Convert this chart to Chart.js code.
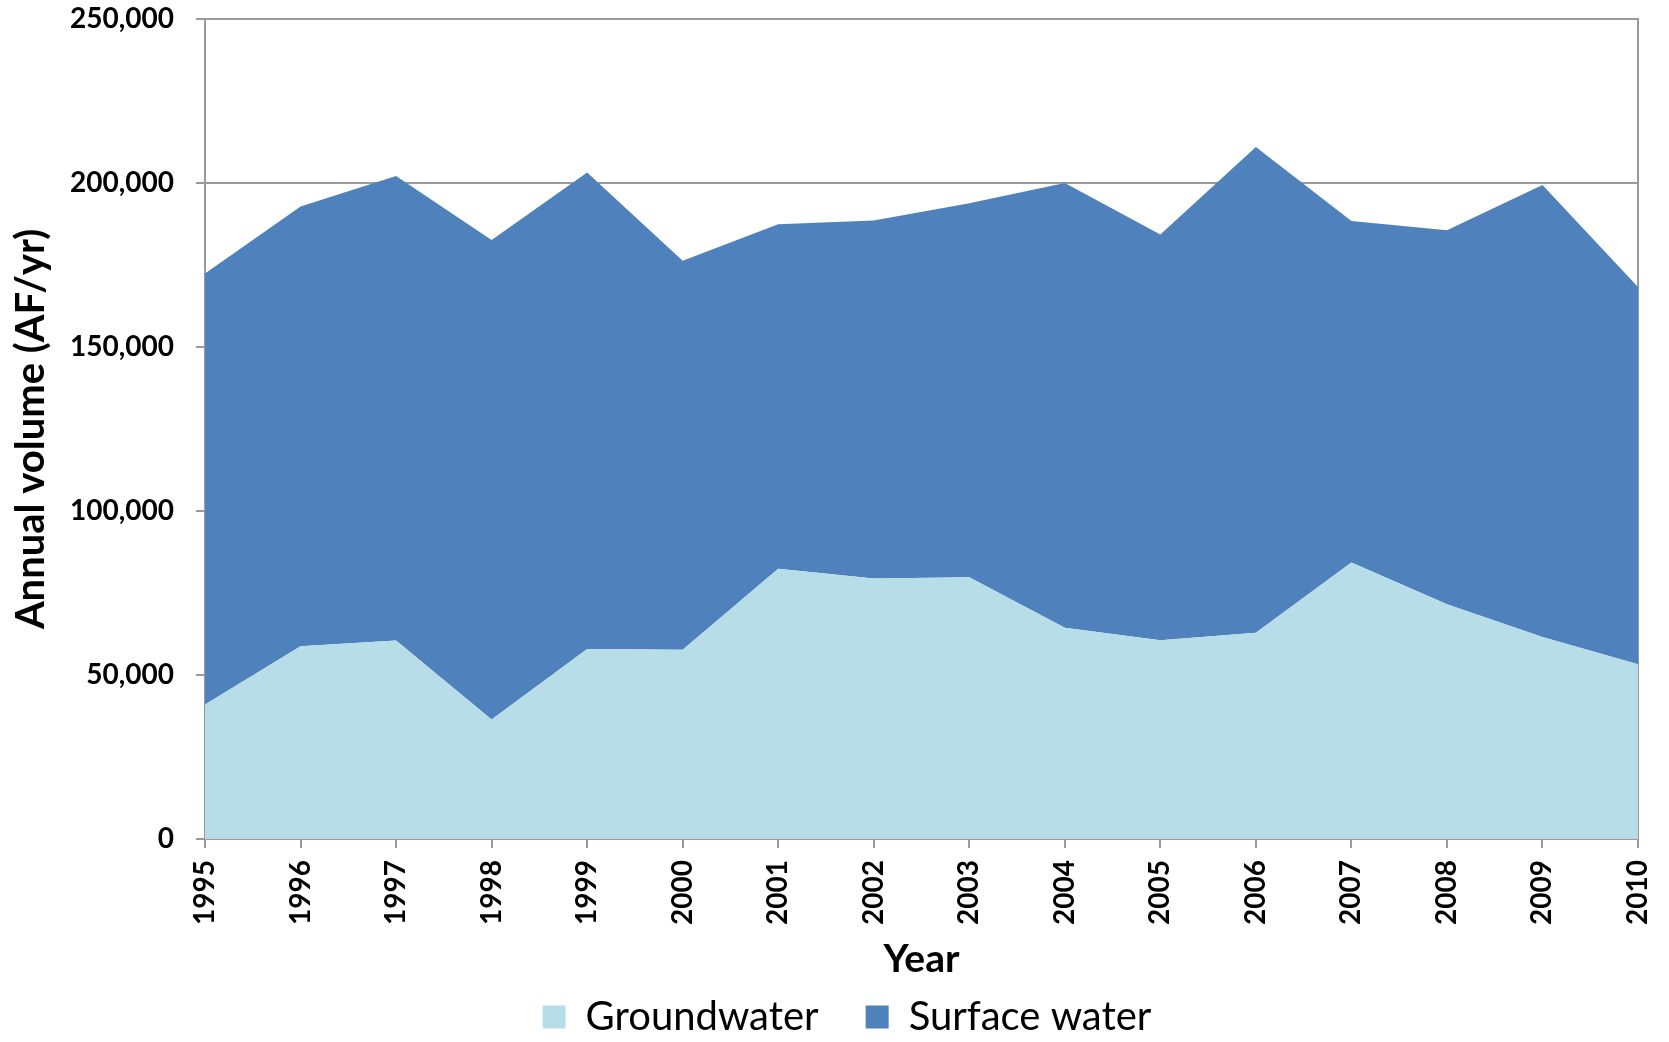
<!DOCTYPE html>
<html lang="en">
<head>
  <meta charset="UTF-8">
  <title>Annual volume</title>
  <script src="https://cdn.jsdelivr.net/npm/chart.js@4.4.1/dist/chart.umd.min.js"></script>
  <style>
    html, body { margin: 0; padding: 0; background: #fff; }
    #wrap { width: 1669px; height: 1042px; }
  </style>
</head>
<body>
  <div id="wrap"><canvas id="chart" width="1669" height="1042"></canvas></div>
  <script>
    // values (AF/yr)
    const years = ['1995','1996','1997','1998','1999','2000','2001','2002','2003','2004','2005','2006','2007','2008','2009','2010'];
    const groundwater = [41000, 58800, 60500, 36400, 57900, 57700, 82400, 79400, 79800, 64400, 60600, 62900, 84300, 71600, 61600, 53300];
    const surfaceWater = [131400, 134000, 141600, 146200, 145300, 118600, 105000, 109200, 114000, 135600, 123700, 148100, 104100, 114000, 137800, 115000];
    const yTicks = [0, 50000, 100000, 150000, 200000, 250000];

    const axisGray = '#9a9a9a';
    const fontFam = 'Lato, "Open Sans", sans-serif';

    // keep tick-label overflow from pushing the plot area around
    function noOverflow(s) {
      s.paddingTop = 0; s.paddingBottom = 0; s.paddingLeft = 0; s.paddingRight = 0;
    }

    new Chart(document.getElementById('chart'), {
      type: 'line',
      data: {
        labels: years,
        datasets: [
          { label: 'Groundwater', data: groundwater, backgroundColor: '#b7dde8', borderWidth: 0, pointRadius: 0, fill: 'origin', tension: 0 },
          { label: 'Surface water', data: surfaceWater, backgroundColor: '#4f81bd', borderWidth: 0, pointRadius: 0, fill: '-1', tension: 0 }
        ]
      },
      options: {
        responsive: false,
        animation: false,
        layout: { padding: { top: 19, right: 31, bottom: -5, left: 56 } },
        plugins: {
          tooltip: { enabled: false },
          legend: {
            position: 'bottom',
            labels: {
              color: '#000',
              font: { family: fontFam, size: 40 },
              boxWidth: 23,
              boxHeight: 23,
              padding: 47
            }
          }
        },
        scales: {
          x: {
            offset: false,
            grid: { drawOnChartArea: false, color: axisGray, tickLength: 9, lineWidth: 2 },
            border: { color: axisGray, width: 2 },
            ticks: { color: '#000', font: { family: fontFam, size: 28, weight: 'bold' }, minRotation: 90, maxRotation: 90, padding: 12 },
            title: { display: true, text: 'Year', color: '#000', font: { family: fontFam, size: 39, weight: 'bold' }, padding: { top: 0, bottom: -33 } },
            afterFit: s => { s.height = 111; noOverflow(s); }
          },
          y: {
            stacked: true,
            min: 0,
            max: 250000,
            afterBuildTicks: s => { s.ticks = yTicks.map(v => ({ value: v })); },
            grid: { color: axisGray, tickLength: 9, lineWidth: 2 },
            border: { color: axisGray, width: 2 },
            ticks: {
              color: '#000',
              font: { family: fontFam, size: 28, weight: 'bold' },
              padding: 22,
              callback: v => v.toLocaleString('en-US')
            },
            title: { display: true, text: 'Annual volume (AF/yr)', color: '#000', font: { family: fontFam, size: 40, weight: 'bold' }, padding: { top: -49, bottom: 0 } },
            afterFit: s => { s.width = 149; noOverflow(s); }
          },
          yRight: {
            position: 'right',
            min: 0,
            max: 250000,
            grid: { drawOnChartArea: false, drawTicks: false },
            border: { color: axisGray, width: 2 },
            ticks: { display: false },
            afterFit: s => { s.width = 0; noOverflow(s); }
          }
        }
      }
    });
  </script>
</body>
</html>
